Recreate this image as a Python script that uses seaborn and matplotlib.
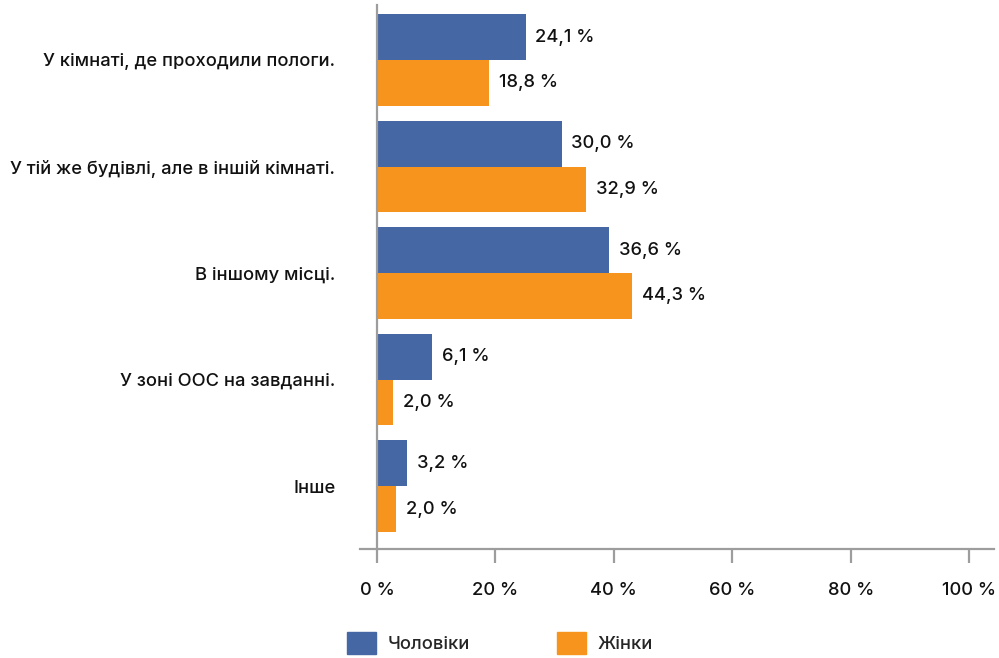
import matplotlib
matplotlib.use("Agg")
import matplotlib.pyplot as plt
import seaborn as sns
import pandas as pd

# categories and series (bar lengths, labels as printed)
categories = [
    "У кімнаті, де проходили пологи.",
    "У тій же будівлі, але в іншій кімнаті.",
    "В іншому місці.",
    "У зоні ООС на завданні.",
    "Інше",
]
men = [25.1, 31.2, 39.2, 9.3, 5.1]
women = [18.9, 35.3, 43.1, 2.7, 3.2]
men_labels = ["24,1 %", "30,0 %", "36,6 %", "6,1 %", "3,2 %"]
women_labels = ["18,8 %", "32,9 %", "44,3 %", "2,0 %", "2,0 %"]
series = ["Чоловіки", "Жінки"]
xticks = [0, 20, 40, 60, 80, 100]

df = pd.DataFrame({
    "cat": categories * 2,
    "val": men + women,
    "sex": [series[0]] * len(men) + [series[1]] * len(women),
})

sns.set_theme(style="white")
plt.rcParams["font.family"] = ["Inter", "DejaVu Sans"]
plt.rcParams["font.weight"] = 500

gray = "#9d9d9d"
txt = "#111111"
fs = 13.2

fig = plt.figure(figsize=(9.99, 6.58), dpi=100)
ax = fig.add_axes([360 / 999, 1 - 549 / 658, (994 - 360) / 999, 544 / 658])

sns.barplot(data=df, x="val", y="cat", hue="sex", orient="h",
            palette=["#4567a4", "#f7941e"], width=0.86, saturation=1,
            linewidth=0, ax=ax, legend=False)

for cont, labs in zip(ax.containers, [men_labels, women_labels]):
    ax.bar_label(cont, labels=labs, padding=7, fontsize=fs, color=txt)

ax.set_xlim(-2.87, 104.2)
ax.set_ylim(4.59, -0.516)
ax.set_xticks(xticks)
ax.set_xticklabels([f"{t} %" for t in xticks], fontsize=fs, color=txt)
ax.set_xlabel("")
ax.set_ylabel("")
ax.tick_params(axis="x", bottom=True, length=10, width=1.6, color=gray, pad=14)
ax.tick_params(axis="y", left=False, length=0, pad=30, labelsize=fs, labelcolor=txt)

for s in ["top", "right"]:
    ax.spines[s].set_visible(False)
ax.spines["left"].set_position(("data", 0))
for s in ["left", "bottom"]:
    ax.spines[s].set_color(gray)
    ax.spines[s].set_linewidth(1.6)

handles = [plt.Rectangle((0, 0), 1, 1, color=c) for c in ["#4567a4", "#f7941e"]]
fig.legend(handles, series, loc="upper left", bbox_to_anchor=(347 / 999, 1 - 632 / 658),
           ncol=2, frameon=False, fontsize=fs, handlelength=1.6, handleheight=1.5,
           handletextpad=0.6, columnspacing=4.75, borderpad=0, borderaxespad=0)

fig.savefig("out.png", dpi=100)
